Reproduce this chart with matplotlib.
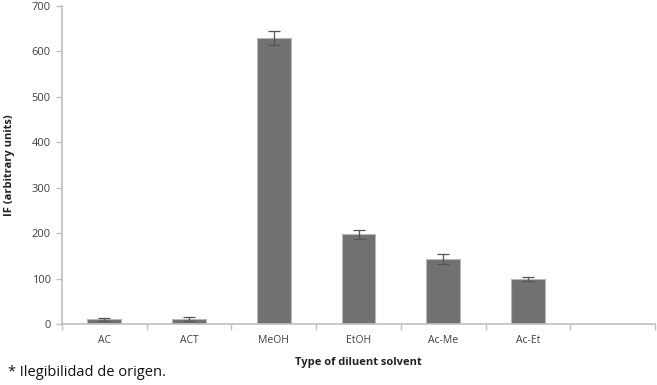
import matplotlib
matplotlib.use("Agg")
import matplotlib.pyplot as plt
import numpy as np

categories = ["AC", "ACT", "MeOH", "EtOH", "Ac-Me", "Ac-Et", ""]
values = [10, 11, 630, 198, 143, 99, 0]
errors = [3, 4, 15, 10, 10, 5, 0]
yticks = [0, 100, 200, 300, 400, 500, 600, 700]

plt.rcParams['font.family'] = ['Open Sans', 'DejaVu Sans']

fig = plt.figure(figsize=(6.57, 3.85), dpi=100)
ax = fig.add_axes([62/657, 1-324/385, (655-62)/657, (324-6)/385])

x = np.arange(len(categories))
n = len(categories) - 1
ax.bar(x[:n], values[:n], width=0.4, color="#717171", edgecolor="#b8b8b8", linewidth=0.8, zorder=2)
ax.errorbar(x[:n], values[:n], yerr=errors[:n], fmt="none", ecolor="#555555",
            elinewidth=0.9, capsize=4, capthick=0.9, zorder=3)

ax.set_xlim(-0.5, len(categories) - 0.5)
ax.set_ylim(0, 700)
ax.set_yticks(yticks)
ax.set_yticklabels([str(v) for v in yticks], fontsize=8, color="#404040")
ax.set_xticks(x[:n])
ax.set_xticklabels(categories[:n], fontsize=7.5, color="#404040")
ax.set_xticks(np.arange(-0.5, len(categories)), minor=True)
ax.tick_params(axis="x", which="major", length=0, pad=8)
ax.tick_params(axis="x", which="minor", length=4, color="#bfbfbf", width=1)
ax.tick_params(axis="y", length=4, color="#bfbfbf", width=1, pad=4)

for s in ["top", "right"]:
    ax.spines[s].set_visible(False)
for s in ["left", "bottom"]:
    ax.spines[s].set_color("#bfbfbf")
    ax.spines[s].set_linewidth(1.2)

ax.set_ylabel("IF (arbitrary units)", fontsize=8, fontweight="bold", color="#222222", labelpad=12)
ax.set_xlabel("Type of diluent solvent", fontsize=8, fontweight="bold", color="#222222", labelpad=8)

fig.text(8/657, 1-373/385, "* Ilegibilidad de origen.", fontsize=10.5, color="#111111",
         va="center", ha="left")

fig.savefig("out.png", dpi=100)
